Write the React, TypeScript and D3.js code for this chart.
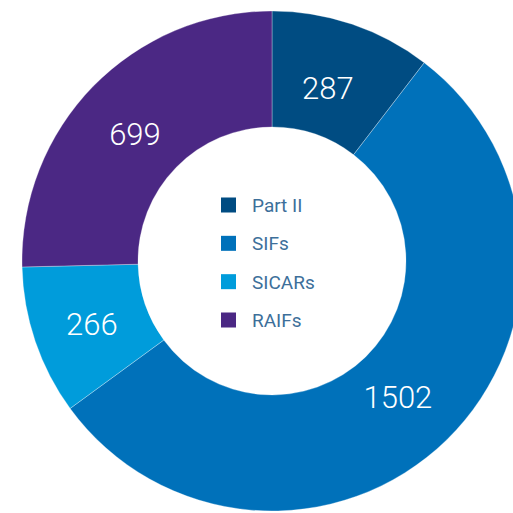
import React from "react";
import * as d3 from "d3";

const width = 513;
const height = 513;
const cx = 272;
const cy = 261;
const outerR = 250;
const innerR = 134;

const categories = ["Part II", "SIFs", "SICARs", "RAIFs"];
const values = [287, 1502, 266, 699];
const colors = ["#004c82", "#0071ba", "#009cdb", "#4b2884"];

export default function App() {
  const data = categories.map((c, i) => ({ name: c, value: values[i], color: colors[i] }));
  const pie = d3.pie<any>().value(d => d.value).sort(null);
  const arcs = pie(data);
  const arc = d3.arc<any>().innerRadius(innerR).outerRadius(outerR);
  const labelArc = d3.arc<any>().innerRadius(186).outerRadius(186);

  const legendY = d3.scalePoint<string>().domain(categories).range([205, 320]);

  return (
    <svg width={width} height={height} style={{ position: "absolute", left: 0, top: 0 }}>
      <g transform={`translate(${cx},${cy})`}>
        {arcs.map((a, i) => (
          <path key={i} d={arc(a) || ""} fill={a.data.color} stroke="#ffffff" strokeWidth={0.6} strokeOpacity={0.5} />
        ))}
        {arcs.map((a, i) => {
          const [x, y] = labelArc.centroid(a);
          return (
            <text key={i} x={x - 4} y={y + 14} textAnchor="middle" fill="#fff"
              fontFamily="Roboto, 'Liberation Sans', sans-serif" fontWeight={300} fontSize={31}>
              {a.data.value}
            </text>
          );
        })}
      </g>
      {data.map((d, i) => (
        <g key={i}>
          <rect x={221} y={legendY(d.name)! - 7.5} width={15} height={15} fill={d.color} />
          <text x={252} y={legendY(d.name)! + 7} fill="#3d6f9a"
            fontFamily="Roboto, 'Liberation Sans', sans-serif" fontSize={19}>
            {d.name}
          </text>
        </g>
      ))}
    </svg>
  );
}
